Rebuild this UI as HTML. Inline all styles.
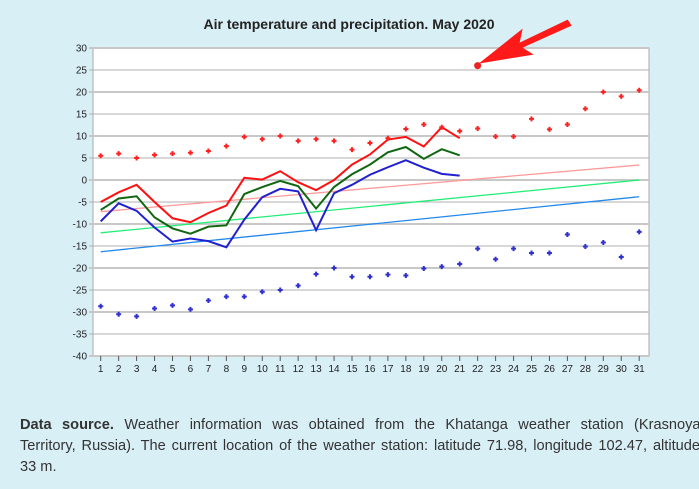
<!DOCTYPE html>
<html><head><meta charset="utf-8"><style>
body{margin:0;background:#d8eff6;font-family:"Liberation Sans",Arial,sans-serif;}
#wrap{position:relative;width:699px;height:489px;overflow:hidden;}
#src{position:absolute;left:20px;top:415px;width:700px;font-size:14.6px;line-height:21px;color:#333;}
#src div{text-align:justify;text-align-last:justify;white-space:nowrap;}
#src div.last{text-align-last:left;}
</style></head><body>
<div id="wrap">
<svg id="chart" width="699" height="400" style="position:absolute;left:0;top:0"></svg>
<div id="src">
<div style="white-space:normal"><b>Data source.</b> Weather information was obtained from the Khatanga weather station (Krasnoyarsk</div>
<div style="width:680px;white-space:normal">Territory, Russia). The current location of the weather station: latitude 71.98, longitude 102.47, altitude</div>
<div class="last">33 m.</div>
</div>
</div>
<script>
const days=[1,2,3,4,5,6,7,8,9,10,11,12,13,14,15,16,17,18,19,20,21,22,23,24,25,26,27,28,29,30,31];
const yTicks=[30,25,20,15,10,5,0,-5,-10,-15,-20,-25,-30,-35,-40];
const maxT=[-5,-2.8,-1.1,-5,-8.7,-9.6,-7.5,-5.8,0.5,0.1,2,-0.5,-2.3,0,3.5,5.8,9.2,9.8,7.6,12,9.5];
const meanT=[-6.8,-4.2,-3.7,-8.5,-11,-12.2,-10.6,-10.3,-3.2,-1.6,-0.2,-1.4,-6.5,-1.6,1.3,3.5,6.3,7.5,4.8,7,5.6];
const minT=[-9.4,-5.3,-7,-10.8,-14,-13.3,-13.9,-15.3,-9,-3.9,-2,-2.6,-11.4,-3,-1.1,1.2,2.9,4.5,2.8,1.4,1];
const recMax=[5.5,6,5,5.7,6,6.2,6.6,7.7,9.8,9.3,10,8.9,9.3,8.9,6.9,8.4,9.5,11.6,12.6,12,11.1,11.7,9.9,9.9,13.9,11.5,12.6,16.2,20,19,20.4];
const recMin=[-28.7,-30.5,-31,-29.2,-28.5,-29.4,-27.4,-26.5,-26.5,-25.4,-25,-24,-21.4,-20,-22,-22,-21.5,-21.7,-20.1,-19.7,-19.1,-15.6,-18,-15.6,-16.6,-16.6,-12.4,-15.1,-14.2,-17.5,-11.8];
const trendMax=[-7.2,3.4];
const trendMean=[-12,0];
const trendMin=[-16.3,-3.8];
const highlightDay=22, highlightVal=26;

const svg=document.getElementById('chart');const NS='http://www.w3.org/2000/svg';
const X0=93,X1=649,Y0=48,Y1=356;
const x=d=>100.7+(d-1)*17.95;
const y=v=>Y0+(30-v)*(Y1-Y0)/70;
function mk(t,a,p){const e=document.createElementNS(NS,t);for(const k in a)e.setAttribute(k,a[k]);(p||svg).appendChild(e);return e;}
let e=mk('rect',{x:X0,y:Y0,width:X1-X0,height:Y1-Y0,fill:'#fff',stroke:'#aaa'});


e=mk('text',{x:349,y:29,'text-anchor':'middle','font-size':'14','font-weight':'bold',fill:'#222'});e.textContent='Air temperature and precipitation. May 2020';


yTicks.forEach(v=>{
 e=mk('line',{x1:X0-4,x2:X1,y1:y(v),y2:y(v),stroke:(v%10===0)?'#c8c8c8':'#b0b0b0','stroke-width':(v%10===0)?2:1});
 
 
 e=mk('text',{x:X0-6,y:y(v)+3.5,'text-anchor':'end','font-size':'10',fill:'#222'});e.textContent=v;
 
 
});
days.forEach(d=>{
 mk('line',{x1:x(d),x2:x(d),y1:Y1,y2:Y1+5,stroke:'#555'});
 e=mk('text',{x:x(d),y:Y1+16,'text-anchor':'middle','font-size':'10',fill:'#222'});e.textContent=d;
 
 
});
function trend(t,c,n){e=mk('line',{x1:x(1),y1:y(t[0]),x2:x(31),y2:y(t[1]),stroke:c,'stroke-width':1.3});
 
 }
trend(trendMax,'#ff9a9a','trend-max');trend(trendMean,'#22ee77','trend-mean');trend(trendMin,'#2288ee','trend-min');
function line(a,c,n){e=mk('polyline',{points:a.map((v,i)=>x(i+1)+','+y(v)).join(' '),fill:'none',stroke:c,'stroke-width':2});
 
 }
line(minT,'#2020d0','min-temp-line');line(meanT,'#116611','mean-temp-line');line(maxT,'#ff1010','max-temp-line');
function pts(a,c,n){a.forEach((v,i)=>{const cx=x(i+1),cy=y(v);
 e=mk('path',{d:`M${cx-2.5},${cy}H${cx+2.5}M${cx},${cy-2.5}V${cy+2.5}`,stroke:c,'stroke-width':2});
 
 });}
pts(recMax,'#ff2020','record-max-point');pts(recMin,'#3030d0','record-min-point');
e=mk('circle',{cx:x(highlightDay),cy:y(highlightVal),r:3.5,fill:'#ee2222'});


const hx=x(highlightDay)+1,hy=y(highlightVal)-2;
e=mk('path',{d:`M${hx},${hy} L${hx+44},${hy-35} L${hx+41},${hy-21} L${hx+89},${hy-44} L${hx+93},${hy-38} L${hx+44},${hy-16} L${hx+55},${hy-9} Z`,fill:'#ff1a1a'});


</script>
</body></html>
